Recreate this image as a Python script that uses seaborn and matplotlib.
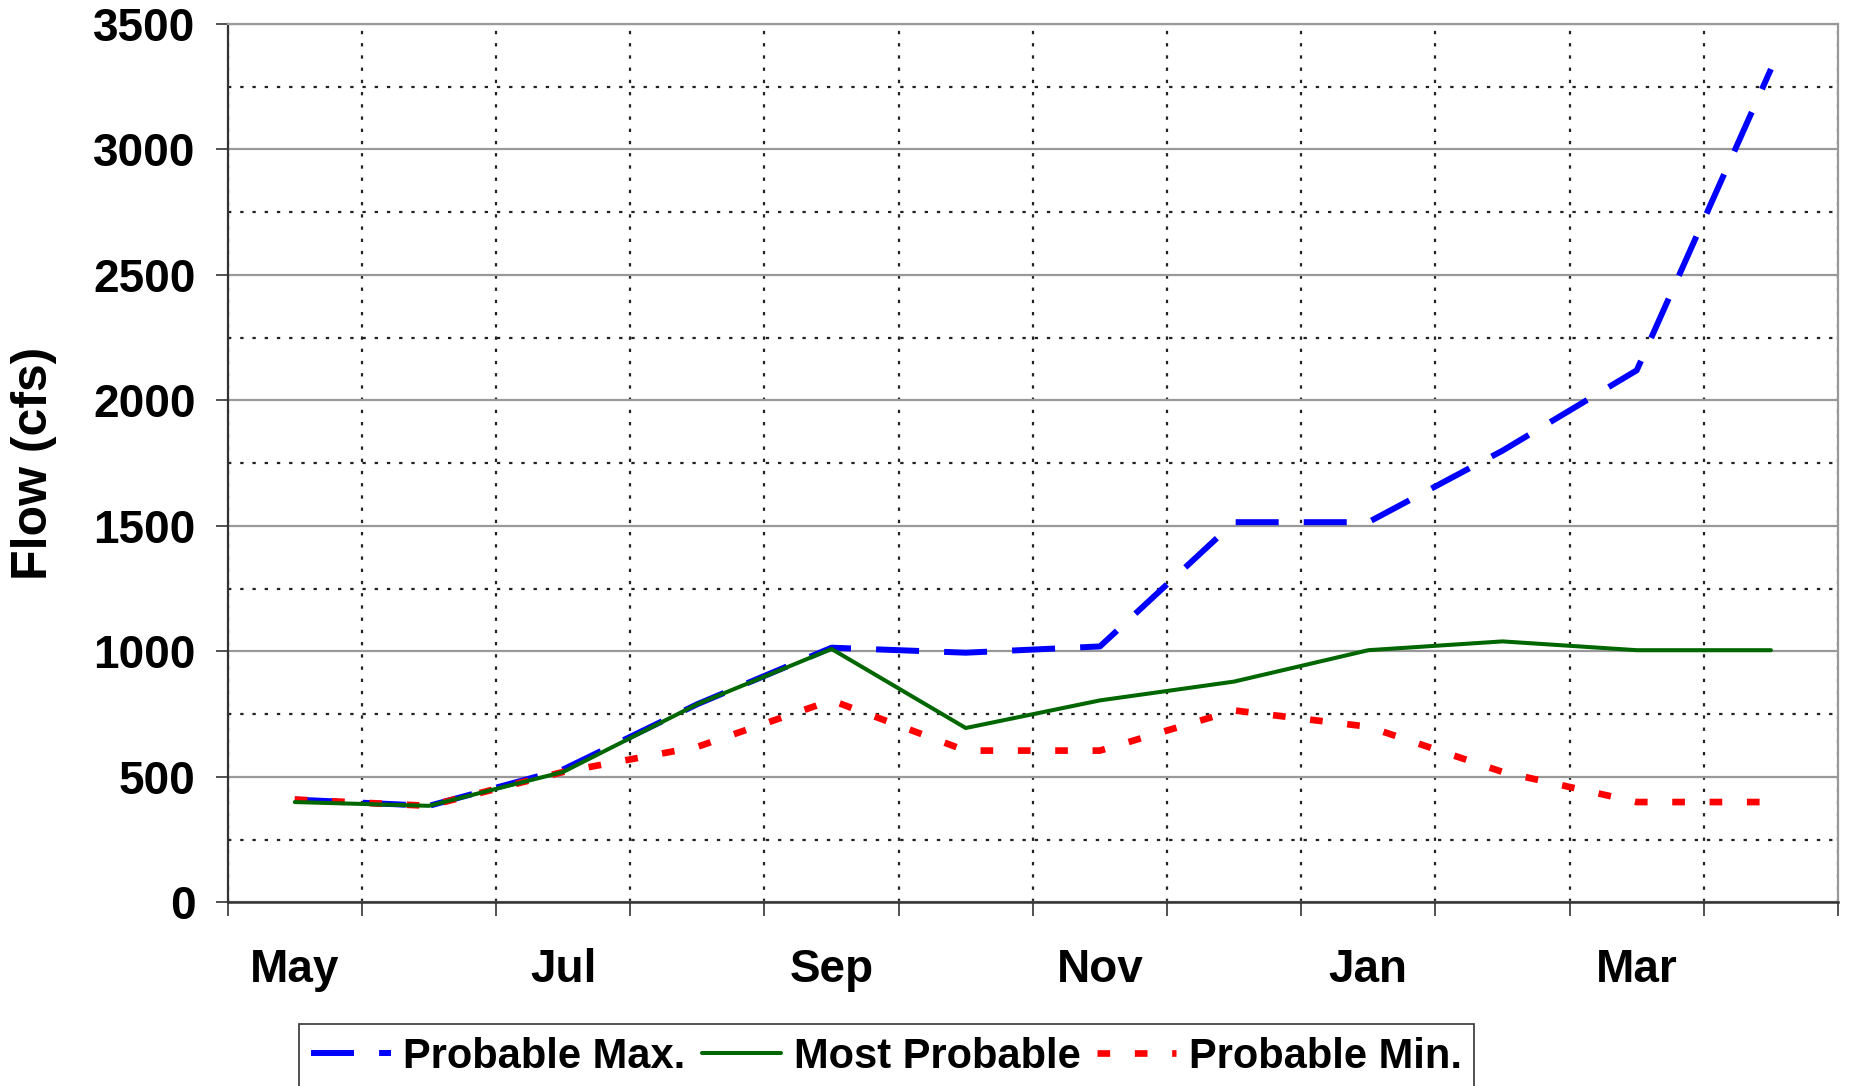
import numpy as np
import pandas as pd
import matplotlib
matplotlib.use("Agg")
import matplotlib.pyplot as plt
import seaborn as sns
from matplotlib.ticker import MultipleLocator, FixedLocator

# monthly flow forecast, May through April
months = ["May", "Jun", "Jul", "Aug", "Sep", "Oct", "Nov", "Dec", "Jan", "Feb", "Mar", "Apr"]
prob_max = [410, 385, 530, 790, 1015, 995, 1020, 1515, 1515, 1800, 2120, 3320]
most_prob = [400, 385, 520, 790, 1010, 695, 805, 880, 1005, 1040, 1005, 1005]
prob_min = [410, 385, 520, 620, 805, 605, 605, 765, 700, 520, 400, 400]
shown_months = ["May", "Jul", "Sep", "Nov", "Jan", "Mar"]

sns.set_style("white")
plt.rcParams['font.family'] = ['Liberation Sans', 'DejaVu Sans']
plt.rcParams['font.weight'] = 'bold'
plt.rcParams['text.color'] = 'black'
plt.rcParams['axes.labelcolor'] = 'black'
plt.rcParams['xtick.color'] = 'black'
plt.rcParams['ytick.color'] = 'black'

df = pd.DataFrame({"pos": np.arange(len(months)), "month": months,
                   "Probable Max.": prob_max, "Most Probable": most_prob,
                   "Probable Min.": prob_min})

fig = plt.figure(figsize=(18.51, 10.86), dpi=100)
ax = fig.add_axes([0.123, 0.169, 0.870, 0.809])

sns.lineplot(data=df, x="pos", y="Probable Max.", ax=ax, color="#0000ff",
             linewidth=4.3, label="Probable Max.", zorder=3)
ax.lines[-1].set_dashes([7.2, 4.2])
ax.lines[-1].set_dash_capstyle("butt")
sns.lineplot(data=df, x="pos", y="Most Probable", ax=ax, color="#006600",
             linewidth=2.9, label="Most Probable", zorder=4)
sns.lineplot(data=df, x="pos", y="Probable Min.", ax=ax, color="#ff0000",
             linewidth=4.8, label="Probable Min.", zorder=3)
ax.lines[-1].set_dashes([1.9, 3.7])
ax.lines[-1].set_dash_capstyle("butt")

ax.set_xlim(-0.5, len(months) - 0.5)
ax.set_ylim(0, 3500)

# x labels every other month at category centres, tick marks at boundaries
ax.xaxis.set_major_locator(FixedLocator([months.index(m) for m in shown_months]))
ax.set_xticklabels(shown_months)
ax.xaxis.set_minor_locator(FixedLocator(np.arange(-0.5, len(months), 1.0)))
ax.tick_params(axis="x", which="major", length=0, pad=33, labelsize=33)
ax.tick_params(axis="x", which="minor", length=10, width=1.2, color="#333333",
               direction="out", bottom=True)
ax.grid(axis="x", which="minor", linestyle=(0, (1.5, 4)), color="#222222", linewidth=1.6)

ax.yaxis.set_major_locator(MultipleLocator(500))
ax.yaxis.set_minor_locator(MultipleLocator(250))
ax.tick_params(axis="y", which="major", length=9, width=1.2, color="#333333",
               direction="out", left=True, labelsize=33, pad=14)
ax.tick_params(axis="y", which="minor", length=0)
ax.grid(axis="y", which="major", linestyle="-", color="#999999", linewidth=1.6)
ax.grid(axis="y", which="minor", linestyle=(0, (1.5, 4)), color="#222222", linewidth=1.6)
ax.set_axisbelow(True)

for lbl in ax.get_xticklabels() + ax.get_yticklabels():
    lbl.set_fontweight("bold")

ax.set_xlabel("")
ax.set_ylabel("Flow (cfs)", fontsize=36, fontweight="bold")
ax.yaxis.set_label_coords(-0.106, 0.5)

ax.spines["left"].set_color("#333333")
ax.spines["bottom"].set_color("#333333")
ax.spines["left"].set_linewidth(1.6)
ax.spines["bottom"].set_linewidth(1.8)
ax.spines["top"].set_color("#999999")
ax.spines["right"].set_color("#999999")
ax.spines["top"].set_linewidth(1.6)
ax.spines["right"].set_linewidth(1.6)

leg = ax.legend(loc="upper left", bbox_to_anchor=(0.1615, 0.057),
                bbox_transform=fig.transFigure, ncol=3, frameon=True,
                fancybox=False, framealpha=1, edgecolor="#333333",
                prop={"size": 30, "weight": "bold"}, handlelength=1.9,
                handletextpad=0.3, columnspacing=0.4, borderpad=0.3,
                borderaxespad=0)
leg.get_frame().set_linewidth(1.2)

fig.savefig("out.png", dpi=100)
